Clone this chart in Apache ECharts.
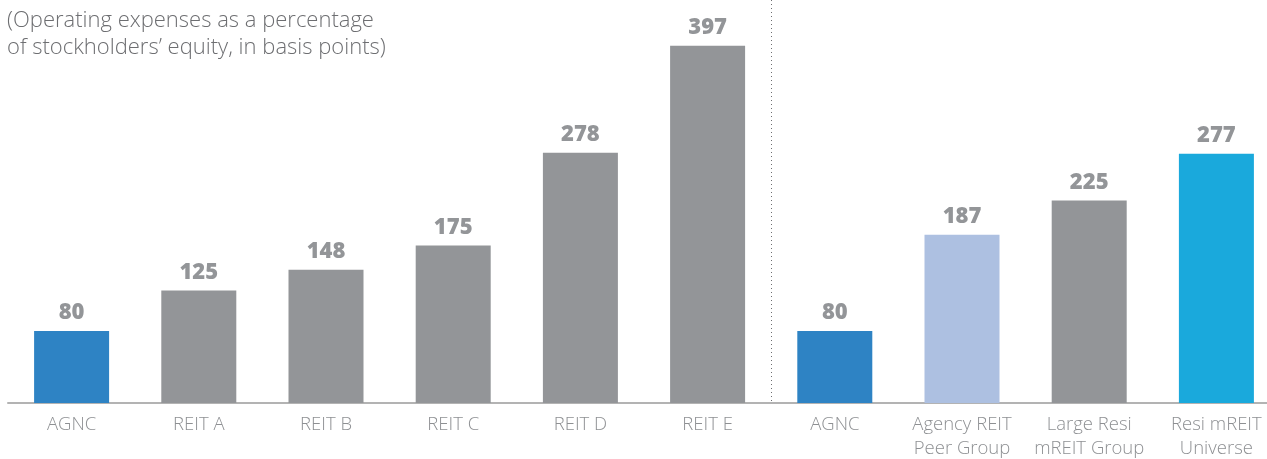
<!DOCTYPE html>
<html>
<head>
<meta charset="utf-8">
<script src="https://cdn.jsdelivr.net/npm/echarts@6/dist/echarts.min.js"></script>
<style>
  html, body { margin: 0; padding: 0; background: #fff; }
  #chart { width: 1267px; height: 459px; }
</style>
</head>
<body>
<div id="chart"></div>
<script>
// categories + values (basis points)
const categories = ['AGNC', 'REIT A', 'REIT B', 'REIT C', 'REIT D', 'REIT E',
                    'AGNC ', 'Agency REIT\nPeer Group', 'Large Resi\nmREIT Group', 'Resi mREIT\nUniverse'];
const values = [80, 125, 148, 175, 278, 397, 80, 187, 225, 277];
const barColors = ['#2e83c4', '#939598', '#939598', '#939598', '#939598', '#939598',
                   '#2e83c4', '#adc0e1', '#939598', '#1aa9dc'];
const subtitle = '(Operating expenses as a percentage\nof stockholders\u2019 equity, in basis points)';

const chart = echarts.init(document.getElementById('chart'));

const option = {
    animation: false,
    title: {
        text: subtitle,
        left: 2, top: 2,
        textStyle: { fontFamily: 'Open Sans', fontSize: 22, fontWeight: 300, color: '#6d6e71', lineHeight: 27 }
    },
    grid: { left: 8, right: -13, top: 43, bottom: 56, outerBoundsMode: 'none', containLabel: false },
    xAxis: {
        type: 'category',
        data: categories,
        axisLine: { lineStyle: { color: '#b3b3b3', width: 2 } },
        axisTick: { show: false },
        axisLabel: {
            interval: 0,
            margin: 10,
            fontFamily: 'Open Sans', fontSize: 18.5, fontWeight: 300, color: '#8e9093', lineHeight: 24,
            formatter: v => v.trim()
        }
    },
    yAxis: {
        type: 'value', min: 0, max: 400,
        show: false,
        splitLine: { show: false }
    },
    series: [{
        type: 'bar',
        barWidth: 75,
        data: values.map((v, i) => ({ value: v, itemStyle: { color: barColors[i] } })),
        label: {
            show: true, position: 'top', distance: 7,
            fontFamily: 'Open Sans', fontSize: 22, fontWeight: 800, color: '#939598'
        }
    }]
};
chart.setOption(option);

// dotted divider between the two groups
const xa = chart.convertToPixel({ xAxisIndex: 0 }, 5);
const xb = chart.convertToPixel({ xAxisIndex: 0 }, 6);
const yBase = chart.convertToPixel({ yAxisIndex: 0 }, 0);
const xDiv = Math.round((xa + xb) / 2) + 0.5;
chart.setOption({
    graphic: [{
        type: 'line',
        shape: { x1: xDiv, y1: 0, x2: xDiv, y2: yBase },
        style: { stroke: '#6d6e71', lineWidth: 1, lineDash: [1, 3] }
    }]
});
</script>
</body>
</html>
